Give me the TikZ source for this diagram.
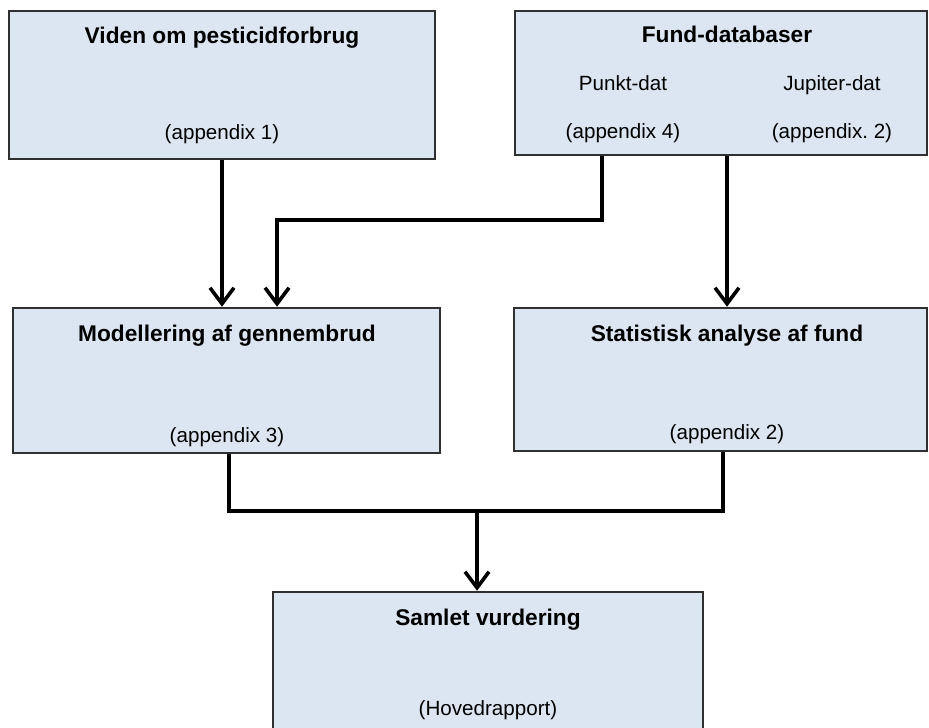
\documentclass[tikz,border=0pt]{standalone}
\usepackage{fontspec}
\setmainfont{Liberation Sans}
\usetikzlibrary{arrows.meta}
\definecolor{boxfill}{HTML}{DCE6F2}
\definecolor{boxline}{HTML}{303030}

\begin{document}
\begin{tikzpicture}[x=1pt, y=-1pt, >={Straight Barb[length=16pt,width=24pt]},
  box/.style 2 args={draw=boxline, fill=boxfill, line width=2.5pt, inner sep=0pt,
    minimum width=#1, minimum height=#2},
  ttl/.style={anchor=base, inner sep=0pt, font=\fontsize{22.7}{26}\selectfont\bfseries},
  txt/.style={anchor=base, inner sep=0pt, font=\fontsize{20.6}{24}\selectfont},
  link/.style={line width=3.6pt},
  arr/.style={link, ->}]
  \useasboundingbox (0,0) rectangle (929,728);
  % boxes
  \node[box={426pt}{148pt}] (viden) at (222,85) {};
  \node[box={412pt}{144pt}] (fund) at (721,83) {};
  \node[box={427pt}{145pt}] (model) at (226.5,380.5) {};
  \node[box={413pt}{143pt}] (stat) at (720.5,379.5) {};
  \node[box={430pt}{170pt}] (samlet) at (488,677) {};
  % texts
  \node[ttl] (viden-t) at (222,43) {Viden om pesticidforbrug};
  \node[txt] (viden-a) at (222,139) {(appendix 1)};
  \node[ttl] (fund-t) at (727,42) {Fund-databaser};
  \node[txt] (punkt) at (623,90) {Punkt-dat};
  \node[txt] (jupiter) at (832,90) {Jupiter-dat};
  \node[txt] (punkt-a) at (623,138) {(appendix 4)};
  \node[txt] (jupiter-a) at (832,138) {(appendix.\ 2)};
  \node[ttl] (model-t) at (227,341) {Modellering af gennembrud};
  \node[txt] (model-a) at (227,442) {(appendix 3)};
  \node[ttl] (stat-t) at (727,341) {Statistisk analyse af fund};
  \node[txt] (stat-a) at (727,439) {(appendix 2)};
  \node[ttl] (samlet-t) at (488,625) {Samlet vurdering};
  \node[txt] (samlet-a) at (488,715) {(Hovedrapport)};
  % bend points
  \coordinate (bendA) at (602,220);
  \coordinate (bendB) at (277,220);
  \coordinate (jupX) at (727,0);
  \coordinate (joinL) at (229,511);
  \coordinate (joinR) at (723,511);
  \coordinate (join) at (477,511);
  % connectors
  \draw[arr] (viden.south) -- (viden.south |- model.north);
  \draw[arr] (fund.south -| bendA) -- (bendA) -- (bendB) -- (bendB |- model.north);
  \draw[arr] (fund.south -| jupX) -- (jupX |- stat.north);
  \draw[link] (model.south -| joinL) -- (joinL) -- (joinR) -- (stat.south -| joinR);
  \draw[arr] (join) -- (join |- samlet.north);
\end{tikzpicture}
\end{document}
